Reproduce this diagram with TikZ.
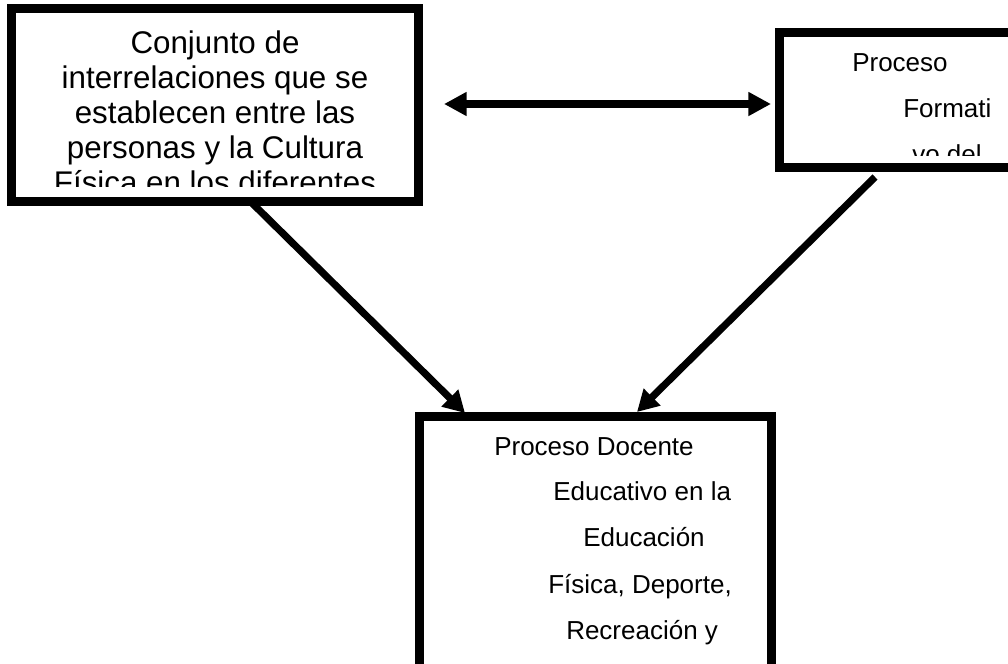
\documentclass[tikz,border=0pt]{standalone}
\usepackage{fontspec}
\setmainfont{Liberation Sans}
\usetikzlibrary{arrows.meta}
\begin{document}
\begin{tikzpicture}[x=0.75pt,y=-0.75pt,
  box/.style={draw=black, line width=6.75pt, fill=white, inner sep=0pt, outer sep=0pt},
  bigtxt/.style={font=\fontsize{23.5}{26}\selectfont, inner sep=0pt, anchor=base},
  smalltxt/.style={font=\fontsize{19.5}{22}\selectfont, inner sep=0pt, anchor=base west},
  conn/.style={line width=5.4pt, line cap=butt, -{Triangle[length=16pt,width=17pt]}},
  biconn/.style={line width=5.4pt, {Triangle[length=17pt,width=17pt]}-{Triangle[length=17pt,width=17pt]}}]
\clip (0,0) rectangle (1008,664);
\fill[white] (0,0) rectangle (1008,664);
% boxes
\node[box, minimum width=305.6pt, minimum height=144.4pt] (tl) at (215.25,104.75) {};
\node[box, minimum width=180.75pt, minimum height=100.9pt] (tr) at (899.5,100.25) {};
\node[box, minimum width=264pt, minimum height=198pt] (bt) at (595,548) {};
% texts of the top-left box
\begin{scope}
\clip (16,13) rectangle (415,186.7);
\node[bigtxt] (tl1) at (215,53.5) {Conjunto de};
\node[bigtxt] (tl2) at (215,88.5) {interrelaciones que se};
\node[bigtxt] (tl3) at (215,123.5) {establecen entre las};
\node[bigtxt] (tl4) at (215,158.5) {personas y la Cultura};
\node[bigtxt] (tl5) at (215,193.5) {Física en los diferentes};
\end{scope}
% texts of the top-right box
\begin{scope}
\clip (783,37) rectangle (1008,155);
\node[smalltxt] (tr1) at (852,71) {Proceso};
\node[smalltxt] (tr2) at (903,117) {Formati};
\node[smalltxt] (tr3) at (912,163) {vo del};
\end{scope}
% texts of the bottom box
\node[smalltxt] (bt1) at (494,455) {Proceso Docente};
\node[smalltxt] (bt2) at (553,500) {Educativo en la};
\node[smalltxt] (bt3) at (583,546.5) {Educación};
\node[smalltxt] (bt4) at (548,593) {Física, Deporte,};
\node[smalltxt] (bt5) at (566,639) {Recreación y};
% connector ends
\coordinate (h1) at (444,104);
\coordinate (h2) at (771,104);
\coordinate (d1s) at (252,203);
\coordinate (d1e) at (465,413);
\coordinate (d2s) at (875,177);
\coordinate (d2e) at (637,412);
% connectors
\draw[biconn] (h1) -- (h2);
\draw[conn] (d1s) -- (d1e);
\draw[conn] (d2s) -- (d2e);
\end{tikzpicture}
\end{document}
